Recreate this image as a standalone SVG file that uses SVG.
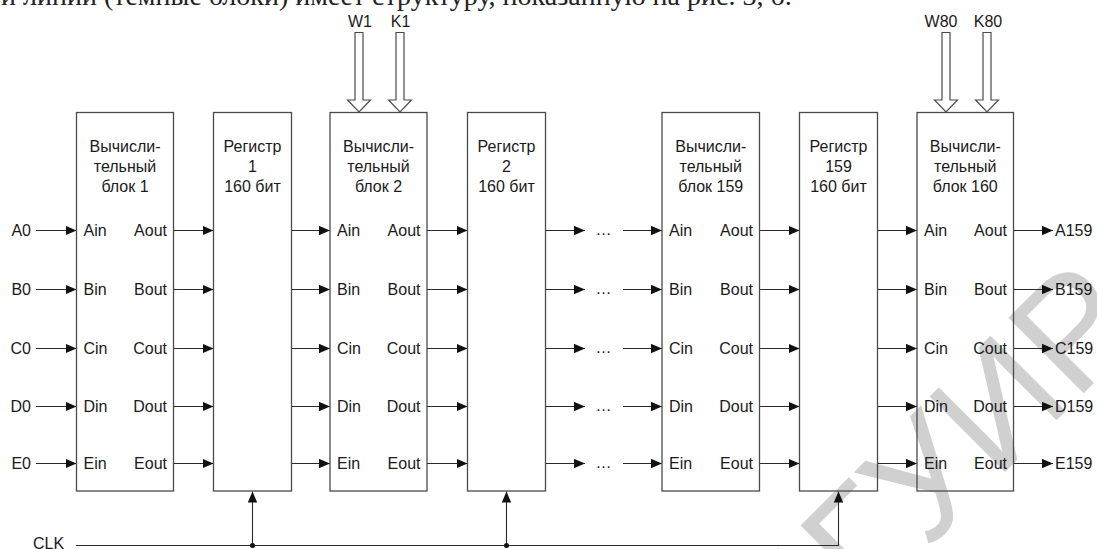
<svg xmlns="http://www.w3.org/2000/svg" width="1097" height="549" viewBox="0 0 1097 549">
<defs>
<style>
.t{font-family:"Liberation Sans",Arial,sans-serif;font-size:16px;fill:#1a1a1a}
.m{text-anchor:middle}
.e{text-anchor:end}
.box{fill:none;stroke:#4a4a4a;stroke-width:1.3}
.ln{fill:none;stroke:#2a2a2a;stroke-width:1.1}
.hol{fill:#fff;stroke:#4a4a4a;stroke-width:1.2}
.wm{font-family:"Liberation Sans",Arial,sans-serif;font-size:155px;fill:#d0d0d0}
.top{font-family:"Liberation Serif","Times New Roman",serif;font-size:28px;fill:#222}
</style>
<marker id="ar" markerUnits="userSpaceOnUse" markerWidth="12" markerHeight="10" refX="11" refY="4.7" orient="auto">
<path d="M0,0 L11,4.7 L0,9.4 Z" fill="#111"/>
</marker>
</defs>
<rect width="1097" height="549" fill="#fff"/>
<text class="top" x="-42" y="5">рной линии (темные блоки) имеет структуру, показанную на рис. 3, б.</text>
<text class="wm" x="795" y="682" transform="rotate(-45 795 682)">БГУИР</text>

<g id="connectors">
<g class="ln" marker-end="url(#ar)">
<path d="M36,230.5 H76.5"/><path d="M36,289.5 H76.5"/><path d="M36,348.5 H76.5"/><path d="M36,406.5 H76.5"/><path d="M36,463.5 H76.5"/>
<path d="M173.5,230.5 H213.5"/><path d="M173.5,289.5 H213.5"/><path d="M173.5,348.5 H213.5"/><path d="M173.5,406.5 H213.5"/><path d="M173.5,463.5 H213.5"/>
<path d="M291.5,230.5 H330"/><path d="M291.5,289.5 H330"/><path d="M291.5,348.5 H330"/><path d="M291.5,406.5 H330"/><path d="M291.5,463.5 H330"/>
<path d="M427,230.5 H467.5"/><path d="M427,289.5 H467.5"/><path d="M427,348.5 H467.5"/><path d="M427,406.5 H467.5"/><path d="M427,463.5 H467.5"/>
<path d="M545.5,230.5 H585"/><path d="M545.5,289.5 H585"/><path d="M545.5,348.5 H585"/><path d="M545.5,406.5 H585"/><path d="M545.5,463.5 H585"/>
<path d="M623,230.5 H662"/><path d="M623,289.5 H662"/><path d="M623,348.5 H662"/><path d="M623,406.5 H662"/><path d="M623,463.5 H662"/>
<path d="M759.5,230.5 H799.5"/><path d="M759.5,289.5 H799.5"/><path d="M759.5,348.5 H799.5"/><path d="M759.5,406.5 H799.5"/><path d="M759.5,463.5 H799.5"/>
<path d="M877.5,230.5 H917"/><path d="M877.5,289.5 H917"/><path d="M877.5,348.5 H917"/><path d="M877.5,406.5 H917"/><path d="M877.5,463.5 H917"/>
<path d="M1013.5,230.5 H1053"/><path d="M1013.5,289.5 H1053"/><path d="M1013.5,348.5 H1053"/><path d="M1013.5,406.5 H1053"/><path d="M1013.5,463.5 H1053"/>
<path d="M76,545.5 H838.5 V491.5"/>
<path d="M252.5,545.5 V491.5"/>
<path d="M506.5,545.5 V491.5"/>
</g>
<circle cx="252.5" cy="545.5" r="2.5" fill="#111"/>
<circle cx="506.5" cy="545.5" r="2.5" fill="#111"/>
<g class="t m">
<text x="603.5" y="235">…</text><text x="603.5" y="294">…</text><text x="603.5" y="353">…</text><text x="603.5" y="411">…</text><text x="603.5" y="468">…</text>
</g>
<path class="hol" d="M355,32.5 V100 H347.5 L359,112 L370.5,100 H363 V32.5 Z"/>
<path class="hol" d="M396,32.5 V100 H388.5 L400,112 L411.5,100 H404 V32.5 Z"/>
<path class="hol" d="M942,32.5 V100 H934.5 L946,112 L957.5,100 H950 V32.5 Z"/>
<path class="hol" d="M983,32.5 V100 H975.5 L987,112 L998.5,100 H991 V32.5 Z"/>
</g>

<g id="labels" class="t">
<text class="e" x="31" y="236">A0</text><text class="e" x="31" y="295">B0</text><text class="e" x="31" y="354">C0</text><text class="e" x="31" y="412">D0</text><text class="e" x="31" y="469">E0</text>
<text x="1055" y="236">A159</text><text x="1055" y="295">B159</text><text x="1055" y="354">C159</text><text x="1055" y="412">D159</text><text x="1055" y="469">E159</text>
<text x="33" y="549">CLK</text>
<text class="m" x="360" y="26.5">W1</text><text class="m" x="400.5" y="26.5">K1</text>
<text class="m" x="941" y="26.5">W80</text><text class="m" x="988" y="26.5">K80</text>
</g>

<g id="block1">
<rect class="box" x="76.5" y="112.5" width="97" height="378.5"/>
<g class="t m"><text x="125" y="151.5">Вычисли-</text><text x="125" y="171.5">тельный</text><text x="125" y="191.5">блок 1</text></g>
<g class="t"><text x="83.5" y="236">Ain</text><text x="83.5" y="295">Bin</text><text x="83.5" y="354">Cin</text><text x="83.5" y="412">Din</text><text x="83.5" y="469">Ein</text></g>
<g class="t e"><text x="167" y="236">Aout</text><text x="167" y="295">Bout</text><text x="167" y="354">Cout</text><text x="167" y="412">Dout</text><text x="167" y="469">Eout</text></g>
</g>

<g id="register1">
<rect class="box" x="213.5" y="112.5" width="78" height="378.5"/>
<g class="t m"><text x="252.5" y="151.5">Регистр</text><text x="252.5" y="171.5">1</text><text x="252.5" y="191.5">160 бит</text></g>
</g>

<g id="block2">
<rect class="box" x="330" y="112.5" width="97" height="378.5"/>
<g class="t m"><text x="378.5" y="151.5">Вычисли-</text><text x="378.5" y="171.5">тельный</text><text x="378.5" y="191.5">блок 2</text></g>
<g class="t"><text x="337" y="236">Ain</text><text x="337" y="295">Bin</text><text x="337" y="354">Cin</text><text x="337" y="412">Din</text><text x="337" y="469">Ein</text></g>
<g class="t e"><text x="420.5" y="236">Aout</text><text x="420.5" y="295">Bout</text><text x="420.5" y="354">Cout</text><text x="420.5" y="412">Dout</text><text x="420.5" y="469">Eout</text></g>
</g>

<g id="register2">
<rect class="box" x="467.5" y="112.5" width="78" height="378.5"/>
<g class="t m"><text x="506.5" y="151.5">Регистр</text><text x="506.5" y="171.5">2</text><text x="506.5" y="191.5">160 бит</text></g>
</g>

<g id="block159">
<rect class="box" x="662" y="112.5" width="97.5" height="378.5"/>
<g class="t m"><text x="710.75" y="151.5">Вычисли-</text><text x="710.75" y="171.5">тельный</text><text x="710.75" y="191.5">блок 159</text></g>
<g class="t"><text x="669" y="236">Ain</text><text x="669" y="295">Bin</text><text x="669" y="354">Cin</text><text x="669" y="412">Din</text><text x="669" y="469">Ein</text></g>
<g class="t e"><text x="753" y="236">Aout</text><text x="753" y="295">Bout</text><text x="753" y="354">Cout</text><text x="753" y="412">Dout</text><text x="753" y="469">Eout</text></g>
</g>

<g id="register159">
<rect class="box" x="799.5" y="112.5" width="78" height="378.5"/>
<g class="t m"><text x="838.5" y="151.5">Регистр</text><text x="838.5" y="171.5">159</text><text x="838.5" y="191.5">160 бит</text></g>
</g>

<g id="block160">
<rect class="box" x="917" y="112.5" width="96.5" height="378.5"/>
<g class="t m"><text x="965.25" y="151.5">Вычисли-</text><text x="965.25" y="171.5">тельный</text><text x="965.25" y="191.5">блок 160</text></g>
<g class="t"><text x="924" y="236">Ain</text><text x="924" y="295">Bin</text><text x="924" y="354">Cin</text><text x="924" y="412">Din</text><text x="924" y="469">Ein</text></g>
<g class="t e"><text x="1007" y="236">Aout</text><text x="1007" y="295">Bout</text><text x="1007" y="354">Cout</text><text x="1007" y="412">Dout</text><text x="1007" y="469">Eout</text></g>
</g>
</svg>
